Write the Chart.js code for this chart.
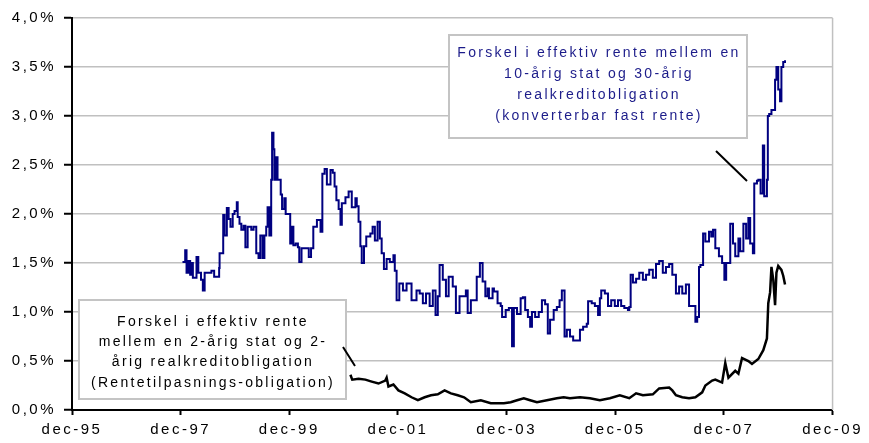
<!DOCTYPE html>
<html>
<head>
<meta charset="utf-8">
<script src="https://cdn.jsdelivr.net/npm/chart.js@4.4.1/dist/chart.umd.min.js"></script>
<style>
  body { margin: 0; background: #fff; }
  #wrap { width: 869px; height: 443px; }
</style>
</head>
<body>
<div id="wrap"><canvas id="spread" width="869" height="443"></canvas></div>
<script>
// x = months after dec-95, y = spread in percent
var tickLabels = ["dec-95", "dec-97", "dec-99", "dec-01", "dec-03", "dec-05", "dec-07", "dec-09"];

var longMonths = [24.4, 25.0, 25.3, 25.7, 26.1, 26.4, 26.7, 27.5, 27.9, 28.5, 28.9, 29.3, 30.0, 30.8, 31.4, 32.1, 32.5, 32.6, 33.0, 33.4,
  33.7, 34.2, 34.6, 35.0, 35.5, 35.9, 36.4, 36.6, 37.0, 37.4, 37.9, 38.3, 38.8, 39.6, 40.1, 40.7, 41.2, 41.6, 42.1, 42.5,
  42.9, 43.2, 43.6, 44.0, 44.2, 44.5, 44.7, 45.0, 45.4, 45.8, 46.1, 46.4, 46.9, 47.2, 47.7, 48.2, 48.5, 48.9, 49.4, 49.9,
  50.2, 50.7, 51.2, 52.0, 52.3, 52.8, 53.3, 54.1, 54.9, 55.3, 55.8, 56.3, 57.1, 57.6, 58.0, 58.4, 58.9, 59.3, 59.6, 60.4,
  61.1, 61.8, 62.6, 62.9, 63.3, 63.7, 64.0, 64.5, 65.0, 65.9, 66.4, 66.9, 67.5, 68.0, 68.4, 68.9, 69.5, 70.2, 71.0, 71.3,
  71.7, 72.3, 73.1, 73.9, 74.5, 75.0, 76.1, 76.8, 77.5, 78.2, 79.0, 79.7, 80.3, 80.8, 81.2, 81.9, 82.6, 83.2, 84.1, 84.8,
  85.6, 86.3, 87.0, 87.4, 88.1, 88.8, 89.4, 90.1, 90.7, 91.3, 91.8, 92.1, 92.9, 93.2, 94.0, 94.7, 95.0, 95.8, 96.5, 97.2,
  97.6, 98.3, 99.1, 99.6, 100.1, 100.7, 101.2, 101.6, 102.3, 103.1, 103.8, 104.5, 105.1, 105.6, 106.4, 107.1, 107.7, 108.2, 108.6, 108.8,
  109.3, 110.0, 110.7, 111.5, 112.2, 112.9, 113.7, 114.0, 114.8, 115.5, 116.2, 116.6, 116.9, 117.7, 118.4, 119.1, 119.9, 120.6, 121.3, 122.0,
  122.8, 123.1, 123.4, 123.9, 124.6, 125.3, 126.1, 126.8, 127.5, 128.3, 129.0, 129.7, 130.5, 131.2, 131.9, 132.6, 133.4, 134.1, 134.8, 135.6,
  136.3, 137.0, 137.7, 138.1, 138.5, 138.8, 139.4, 139.9, 140.7, 141.2, 141.6, 142.1, 142.9, 143.6, 144.1, 144.5, 145.4, 146.0, 146.5, 147.2,
  147.6, 148.3, 148.9, 149.4, 149.8, 150.4, 150.7, 151.3, 151.6, 152.1, 152.6, 152.9, 153.5, 153.7, 154.0, 154.5, 154.9, 155.3, 155.6, 156.0,
  156.4, 156.7, 157.1, 157.5];
var longSpread = [1.51, 1.63, 1.40, 1.52, 1.38, 1.50, 1.35, 1.56, 1.40, 1.33, 1.22, 1.40, 1.40, 1.42, 1.36, 1.36, 1.45, 1.60, 1.60, 1.99,
  1.78, 2.06, 1.95, 1.87, 2.00, 2.03, 2.12, 1.97, 1.90, 1.84, 1.88, 1.66, 1.87, 1.84, 1.87, 1.60, 1.55, 1.78, 1.55, 1.78,
  1.87, 2.07, 1.78, 2.35, 2.83, 2.66, 2.35, 2.58, 2.35, 2.35, 2.20, 2.05, 2.16, 2.00, 2.00, 1.70, 1.87, 1.68, 1.70, 1.66,
  1.51, 1.65, 1.65, 1.65, 1.56, 1.65, 1.87, 1.94, 1.82, 2.41, 2.46, 2.30, 2.45, 2.42, 2.28, 2.14, 2.05, 1.89, 2.11, 2.17,
  2.23, 2.07, 2.16, 2.08, 1.92, 1.67, 1.50, 1.67, 1.77, 1.80, 1.87, 1.73, 1.92, 1.75, 1.60, 1.44, 1.54, 1.51, 1.58, 1.42,
  1.12, 1.29, 1.22, 1.29, 1.29, 1.12, 1.22, 1.19, 1.09, 1.19, 1.06, 1.22, 0.97, 1.16, 1.48, 1.33, 1.16, 1.36, 1.26, 0.99,
  1.16, 1.16, 1.22, 0.99, 1.12, 1.12, 1.36, 1.50, 1.31, 1.16, 1.24, 1.14, 1.24, 1.21, 1.09, 1.06, 0.95, 1.02, 1.04, 0.65,
  1.04, 0.98, 1.14, 1.15, 1.02, 0.95, 0.85, 1.00, 0.95, 1.00, 1.12, 1.08, 0.78, 0.92, 1.02, 1.05, 1.12, 1.22, 1.22, 0.75,
  0.82, 0.75, 0.71, 0.71, 0.82, 0.85, 0.88, 1.11, 1.09, 1.06, 0.97, 1.14, 1.22, 1.19, 1.06, 1.12, 1.06, 1.12, 1.06, 1.04,
  1.02, 1.05, 1.38, 1.30, 1.34, 1.40, 1.33, 1.38, 1.43, 1.35, 1.49, 1.52, 1.40, 1.46, 1.49, 1.38, 1.19, 1.26, 1.19, 1.28,
  1.06, 1.06, 0.90, 0.95, 1.46, 1.48, 1.80, 1.72, 1.82, 1.77, 1.84, 1.65, 1.57, 1.50, 1.33, 1.50, 1.90, 1.70, 1.57, 1.75,
  1.62, 1.90, 1.75, 1.96, 1.70, 1.60, 2.31, 2.34, 2.35, 2.21, 2.70, 2.18, 2.35, 3.00, 3.02, 3.06, 3.06, 3.37, 3.50, 3.27,
  3.15, 3.50, 3.55, 3.57];

var shortMonths = [61.5, 61.9, 63.3, 64.8, 66.2, 67.7, 69.2, 69.5, 69.9, 71.0, 72.1, 73.5, 75.0, 76.4, 77.9, 79.3, 80.8, 82.3, 83.7, 85.2,
  86.6, 88.1, 90.3, 92.5, 95.4, 96.9, 98.3, 99.8, 101.2, 102.7, 104.9, 107.1, 108.6, 110.0, 112.2, 114.4, 116.6, 118.8, 121.0, 123.1,
  124.6, 126.1, 128.3, 129.7, 131.9, 132.6, 133.4, 134.8, 136.3, 137.7, 139.2, 139.9, 141.4, 142.1, 143.6, 144.3, 145.0, 146.5, 147.2, 148.0,
  149.4, 150.2, 151.6, 152.7, 153.5, 153.8, 154.2, 154.5, 154.9, 155.3, 155.6, 156.0, 156.7, 157.1, 157.5];
var shortSpread = [0.36, 0.31, 0.32, 0.31, 0.29, 0.27, 0.30, 0.33, 0.24, 0.26, 0.20, 0.17, 0.13, 0.10, 0.13, 0.15, 0.16, 0.20, 0.17, 0.15,
  0.13, 0.08, 0.10, 0.07, 0.07, 0.08, 0.10, 0.12, 0.10, 0.08, 0.10, 0.12, 0.13, 0.12, 0.13, 0.12, 0.10, 0.12, 0.15, 0.12,
  0.17, 0.15, 0.16, 0.22, 0.23, 0.20, 0.15, 0.13, 0.12, 0.13, 0.18, 0.25, 0.30, 0.31, 0.28, 0.48, 0.33, 0.40, 0.37, 0.53,
  0.50, 0.47, 0.52, 0.61, 0.73, 1.09, 1.20, 1.46, 1.33, 1.07, 1.40, 1.47, 1.43, 1.37, 1.28];

var longLabel = ["Forskel i effektiv rente mellem en", "10-årig stat og 30-årig", "realkreditobligation", "(konverterbar fast rente)"];
var shortLabel = ["Forskel i effektiv rente", "mellem en 2-årig stat og 2-", "årig realkreditobligation", "(Rentetilpasnings-obligation)"];

function toPoints(xs, ys) {
  return xs.map(function (x, i) { return { x: x, y: ys[i] }; });
}

// Excel-like spaced text
var spacing = {
  id: "spacing",
  beforeLayout: function (chart) { chart.ctx.letterSpacing = "2.5px"; },
  beforeDraw: function (chart) { chart.ctx.letterSpacing = "2.5px"; }
};

var notes = {
  id: "notes",
  afterDraw: function (chart) {
    var ctx = chart.ctx;
    var a = chart.chartArea;
    ctx.save();
    // right frame line
    ctx.strokeStyle = "#c0c0c0";
    ctx.lineWidth = 1.5;
    ctx.beginPath();
    ctx.moveTo(a.right, a.top);
    ctx.lineTo(a.right, a.bottom);
    ctx.stroke();

    function box(x0, y0, x1, y1, lines, color, cx, ys) {
      ctx.fillStyle = "#fff";
      ctx.fillRect(x0, y0, x1 - x0, y1 - y0);
      ctx.strokeStyle = "#c4c4c4";
      ctx.lineWidth = 2;
      ctx.strokeRect(x0, y0, x1 - x0, y1 - y0);
      ctx.fillStyle = color;
      ctx.font = "14px 'Liberation Sans', Arial, sans-serif";
      ctx.letterSpacing = "2.3px";
      ctx.textAlign = "center";
      ctx.textBaseline = "middle";
      lines.forEach(function (t, i) { ctx.fillText(t, cx + 1, ys[i]); });
    }
    box(449, 35, 747, 138, longLabel, "#1c1c8a", 598, [53, 74, 95, 116]);
    box(79, 300, 346, 399, shortLabel, "#000", 212, [322, 342, 362, 383]);

    ctx.strokeStyle = "#000";
    ctx.lineWidth = 2;
    ctx.beginPath();
    ctx.moveTo(716, 151); ctx.lineTo(747, 181);
    ctx.moveTo(343, 347); ctx.lineTo(355, 366);
    ctx.stroke();
    ctx.restore();
  }
};

var ctx = document.getElementById("spread").getContext("2d");
var spreadChart = new Chart(ctx, {
  type: "line",
  data: {
    datasets: [
      {
        data: toPoints(longMonths, longSpread),
        borderColor: "#000080",
        borderWidth: 2,
        pointRadius: 0,
        stepped: true,
        fill: false
      },
      {
        data: toPoints(shortMonths, shortSpread),
        borderColor: "#000",
        borderWidth: 2.5,
        pointRadius: 0,
        tension: 0,
        fill: false
      }
    ]
  },
  options: {
    responsive: false,
    animation: false,
    layout: { padding: { top: 18, right: 31, bottom: 0, left: 0 } },
    plugins: { legend: { display: false }, tooltip: { enabled: false } },
    scales: {
      x: {
        type: "linear",
        min: 0,
        max: 168,
        afterBuildTicks: function (scale) {
          scale.ticks = tickLabels.map(function (t, i) { return { value: i * 24 }; });
        },
        afterFit: function (scale) { scale.height = 33; },
        ticks: {
          autoSkip: false,
          maxRotation: 0,
          padding: 6,
          color: "#000",
          font: { family: "'Liberation Sans', Arial, sans-serif", size: 15 },
          callback: function (v) { return tickLabels[Math.round(v / 24)]; }
        },
        grid: { drawOnChartArea: false, tickLength: 5, tickColor: "#000", tickWidth: 2 },
        border: { color: "#000", width: 2 }
      },
      y: {
        min: 0,
        max: 4,
        afterFit: function (scale) { scale.width = 72; },
        ticks: {
          stepSize: 0.5,
          padding: 8,
          color: "#000",
          font: { family: "'Liberation Sans', Arial, sans-serif", size: 15 },
          callback: function (v) { return v.toFixed(1).replace(".", ",") + "%"; }
        },
        grid: { color: "#c0c0c0", lineWidth: 1.5, tickLength: 8, tickColor: "#000", tickWidth: 2 },
        border: { color: "#000", width: 2 }
      }
    }
  },
  plugins: [spacing, notes]
});
</script>
</body>
</html>
